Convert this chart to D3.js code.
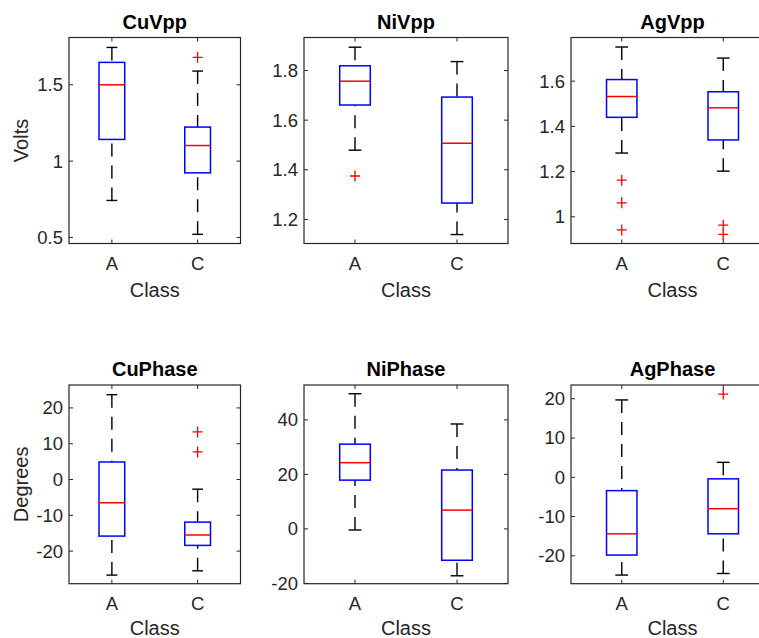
<!DOCTYPE html>
<html>
<head>
<meta charset="utf-8">
<script src="https://cdn.jsdelivr.net/npm/d3@7"></script>
<style>
  body { margin: 0; background: #fff; }
  svg { display: block; font-family: Arial, "Liberation Sans", sans-serif; }
</style>
</head>
<body>
<div id="plot"></div>
<script>
// box plot statistics (per panel: [A, C])
var panelNames = ["CuVpp", "NiVpp", "AgVpp", "CuPhase", "NiPhase", "AgPhase"];
var classes = ["A", "C"];
var whiskerLow  = [[0.742, 0.52], [1.479, 1.139], [1.282, 1.202], [-26.7, -25.5], [-0.4, -17.2], [-24.9, -24.5]];
var q1          = [[1.142, 0.923], [1.661, 1.266], [1.44, 1.34], [-15.8, -18.4], [17.9, -11.5], [-19.8, -14.4]];
var medians     = [[1.5, 1.102], [1.757, 1.507], [1.532, 1.482], [-6.5, -15.5], [24.3, 6.9], [-14.4, -8.0]];
var q3          = [[1.647, 1.223], [1.819, 1.693], [1.607, 1.553], [4.9, -11.9], [31.1, 21.6], [-3.4, -0.4]];
var whiskerHigh = [[1.745, 1.59], [1.894, 1.836], [1.751, 1.702], [23.7, -2.7], [49.6, 38.5], [19.7, 3.8]];
var outliers    = [[[], [1.68]], [[1.375], []], [[1.162, 1.062, 0.942], [0.963, 0.922]],
                   [[], [13.3, 7.7]], [[], []], [[], [21.2]]];
var yDomains = [[0.46, 1.81], [1.103, 1.933], [0.882, 1.793], [-29.1, 26.4], [-20.1, 52.8], [-27.1, 23.5]];
var yTicks = [[0.5, 1, 1.5], [1.2, 1.4, 1.6, 1.8], [1, 1.2, 1.4, 1.6],
              [-20, -10, 0, 10, 20], [-20, 0, 20, 40], [-20, -10, 0, 10, 20]];
var yLabels = ["Volts", "", "", "Degrees", "", ""];

var W = 759, H = 638;
// axes boxes: left, right, top, bottom
var cols = [[69, 240.5], [304, 508], [571, 774]];
var rows = [[37.5, 243.5], [385, 583.7]];

var svg = d3.select("#plot").append("svg")
    .attr("width", W).attr("height", H);

var axisColor = "#262626";

panelNames.forEach(function(name, i) {
    var c = cols[i % 3], r = rows[Math.floor(i / 3)];
    var x = d3.scaleLinear().domain([0.5, 2.5]).range([c[0], c[1]]);
    var y = d3.scaleLinear().domain(yDomains[i]).range([r[1], r[0]]);
    var unit = x(2) - x(1);
    var bw = unit * 0.3, cw = bw * 0.42;
    var g = svg.append("g");

    // box outline
    g.append("rect")
        .attr("x", c[0]).attr("y", r[0])
        .attr("width", c[1] - c[0]).attr("height", r[1] - r[0])
        .attr("fill", "none").attr("stroke", axisColor).attr("stroke-width", 1.2);

    // y ticks (left and right, inward)
    yTicks[i].forEach(function(t) {
        var yy = y(t);
        g.append("line").attr("x1", c[0]).attr("x2", c[0] + 4).attr("y1", yy).attr("y2", yy)
            .attr("stroke", axisColor);
        g.append("line").attr("x1", c[1]).attr("x2", c[1] - 4).attr("y1", yy).attr("y2", yy)
            .attr("stroke", axisColor);
        g.append("text").attr("x", c[0] - 6).attr("y", yy).attr("dy", "0.35em")
            .attr("text-anchor", "end").attr("fill", axisColor).style("font-size", "18.5px")
            .text(t);
    });

    // x ticks (bottom and top)
    classes.forEach(function(cl, k) {
        var xx = x(k + 1);
        g.append("line").attr("x1", xx).attr("x2", xx).attr("y1", r[1]).attr("y2", r[1] - 4)
            .attr("stroke", axisColor);
        g.append("line").attr("x1", xx).attr("x2", xx).attr("y1", r[0]).attr("y2", r[0] + 4)
            .attr("stroke", axisColor);
        g.append("text").attr("x", xx).attr("y", r[1] + 26.5)
            .attr("text-anchor", "middle").attr("fill", axisColor).style("font-size", "18.5px")
            .text(cl);
    });

    // boxes
    classes.forEach(function(cl, k) {
        var xx = x(k + 1);
        // whiskers
        [[whiskerHigh[i][k], q3[i][k]], [whiskerLow[i][k], q1[i][k]]].forEach(function(p) {
            g.append("line").attr("x1", xx).attr("x2", xx).attr("y1", y(p[0])).attr("y2", y(p[1]))
                .attr("stroke", "#000").attr("stroke-width", 1.4).attr("stroke-dasharray", "13,9");
            g.append("line").attr("x1", xx - cw / 2).attr("x2", xx + cw / 2)
                .attr("y1", y(p[0])).attr("y2", y(p[0]))
                .attr("stroke", "#000").attr("stroke-width", 1.4);
        });
        g.append("rect")
            .attr("x", xx - bw / 2).attr("y", y(q3[i][k]))
            .attr("width", bw).attr("height", y(q1[i][k]) - y(q3[i][k]))
            .attr("fill", "none").attr("stroke", "#0000ff").attr("stroke-width", 1.5);
        g.append("line").attr("x1", xx - bw / 2).attr("x2", xx + bw / 2)
            .attr("y1", y(medians[i][k])).attr("y2", y(medians[i][k]))
            .attr("stroke", "#ff0000").attr("stroke-width", 1.5);
        outliers[i][k].forEach(function(o) {
            var oy = y(o);
            g.append("path")
                .attr("d", "M" + (xx - 5) + "," + oy + "H" + (xx + 5) + "M" + xx + "," + (oy - 5.5) + "V" + (oy + 5.5))
                .attr("stroke", "#ff0000").attr("stroke-width", 1.3).attr("fill", "none");
        });
    });

    var cx = (c[0] + c[1]) / 2;
    g.append("text").attr("x", cx).attr("y", r[0] - 9)
        .attr("text-anchor", "middle").attr("fill", "#000")
        .style("font-size", "20px").style("font-weight", "bold")
        .text(name);
    g.append("text").attr("x", cx).attr("y", Math.min(r[1] + 53.5, H - 3))
        .attr("text-anchor", "middle").attr("fill", axisColor).style("font-size", "20px")
        .text("Class");
    if (yLabels[i]) {
        g.append("text")
            .attr("transform", "translate(28," + ((r[0] + r[1]) / 2) + ") rotate(-90)")
            .attr("text-anchor", "middle").attr("fill", axisColor).style("font-size", "20px")
            .text(yLabels[i]);
    }
});
</script>
</body>
</html>
